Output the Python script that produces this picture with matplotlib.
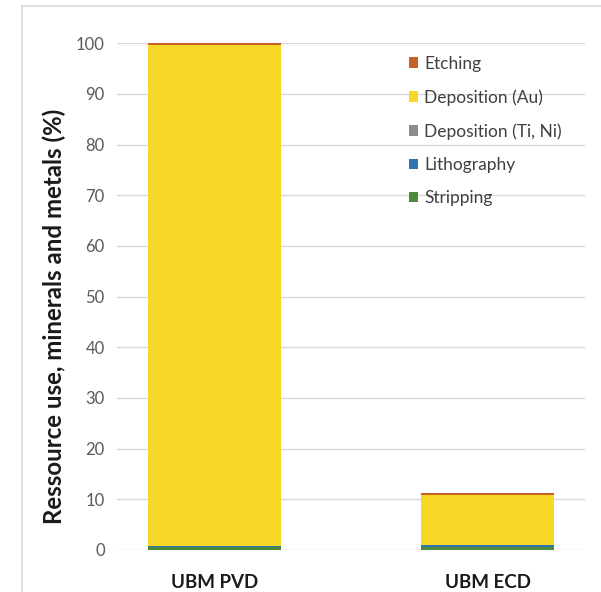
import matplotlib
matplotlib.use("Agg")
import matplotlib.pyplot as plt
from matplotlib.patches import Rectangle

plt.rcParams["font.family"] = ["Lato", "DejaVu Sans"]

# -----------------------------
# Data (% of total, stacked bottom to top)
# -----------------------------
processes = ["UBM PVD", "UBM ECD"]
stripping = [0.6, 0.5]
lithography = [0.1, 0.4]
deposition_ti_ni = [0.1, 0.1]
deposition_au = [98.8, 9.9]
etching = [0.4, 0.3]

layers = [
    ("Stripping", stripping, "#4E8A3A"),
    ("Lithography", lithography, "#2E75B6"),
    ("Deposition (Ti, Ni)", deposition_ti_ni, "#8C8C8C"),
    ("Deposition (Au)", deposition_au, "#F7D727"),
    ("Etching", etching, "#C8602A"),
]

# -----------------------------
# Plot
# -----------------------------
fig = plt.figure(figsize=(6.01, 5.92), dpi=100)
ax = fig.add_axes([0.195, 0.071, 0.778, 0.856])

# chart frame
fig.patches.append(Rectangle((22 / 601, -0.05), 1.0, 1 - 6 / 592 + 0.05,
                             transform=fig.transFigure, fill=False,
                             edgecolor="#D9D9D9", linewidth=1.2))

x = list(range(len(processes)))
bottom = [0.0] * len(processes)
handles = {}
for name, values, color in layers:
    bars = ax.bar(x, values, bottom=bottom, width=0.487, color=color, zorder=3)
    handles[name] = bars
    bottom = [b + v for b, v in zip(bottom, values)]

ax.set_ylim(0, 100)
ax.set_xlim(-0.355, 1.355)
ax.set_yticks(range(0, 101, 10))
ax.grid(axis="y", color="#D9D9D9", linewidth=1.0, zorder=0)
for s in ax.spines.values():
    s.set_visible(False)
ax.tick_params(axis="both", length=0)
ax.tick_params(axis="y", labelsize=12, labelcolor="#595959", pad=9)
ax.set_xticks(x)
ax.set_xticklabels(processes, fontsize=13.5, fontweight="bold", color="#1A1A1A")
ax.tick_params(axis="x", pad=17)

ax.set_ylabel("Ressource use, minerals and metals (%)", fontsize=17.3,
              fontweight="bold", color="#1A1A1A")
ax.yaxis.set_label_coords(-0.11, 0.46)

order = ["Etching", "Deposition (Au)", "Deposition (Ti, Ni)", "Lithography", "Stripping"]
ax.legend([handles[n] for n in order], order, loc="upper left",
          bbox_to_anchor=(0.59, 1.006), frameon=False, fontsize=12.5,
          handlelength=0.55, handleheight=0.55, handletextpad=0.35,
          labelspacing=1.0, labelcolor="#404040")

plt.savefig("out.png", dpi=100)
print("Saved: out.png")
